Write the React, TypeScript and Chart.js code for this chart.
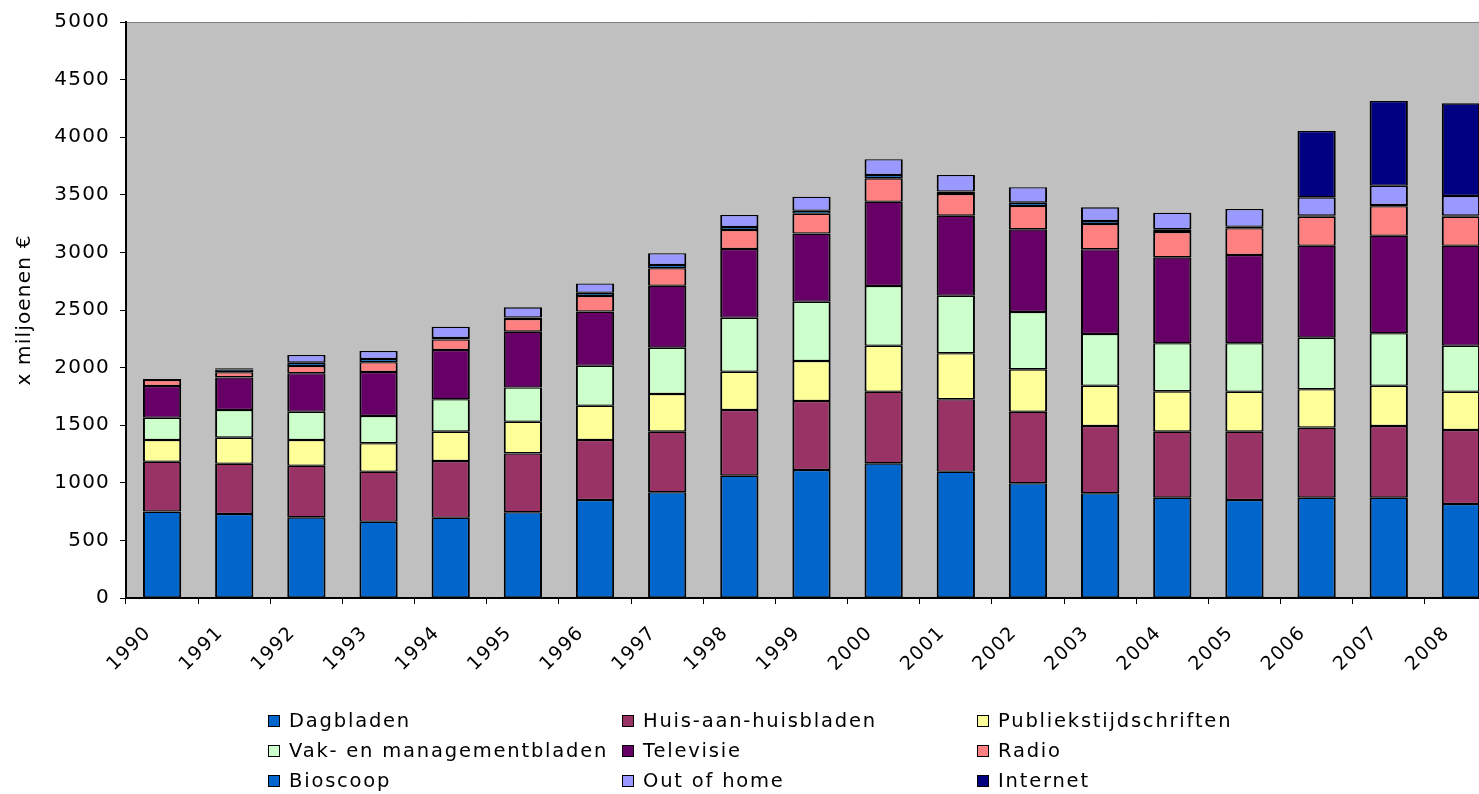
import React, { useEffect, useRef } from "react";
import { Chart, registerables } from "chart.js";

Chart.register(...registerables);

const years = ["1990", "1991", "1992", "1993", "1994", "1995", "1996", "1997", "1998", "1999", "2000", "2001", "2002", "2003", "2004", "2005", "2006", "2007", "2008"];

const dagbladen = [750, 729, 700, 662, 697, 744, 851, 918, 1062, 1111, 1169, 1096, 996, 909, 871, 851, 871, 871, 816];
const huisAanHuisbladen = [433, 437, 448, 434, 492, 511, 521, 526, 570, 599, 622, 629, 621, 584, 573, 593, 608, 622, 642];
const publiekstijdschriften = [189, 226, 224, 247, 255, 275, 297, 327, 332, 347, 399, 399, 368, 350, 350, 347, 333, 350, 333];
const vakbladen = [193, 240, 245, 237, 281, 297, 347, 402, 469, 515, 518, 500, 498, 449, 417, 420, 448, 455, 399];
const televisie = [275, 283, 334, 382, 428, 485, 470, 538, 597, 591, 732, 695, 717, 735, 746, 766, 798, 847, 868];
const radio = [52, 44, 63, 84, 92, 110, 135, 151, 164, 173, 203, 188, 203, 220, 220, 232, 251, 256, 251];
const bioscoop = [8, 25, 29, 29, 12, 13, 28, 29, 26, 26, 29, 22, 29, 26, 23, 14, 10, 10, 10];
const outOfHome = [0, 10, 66, 69, 98, 88, 82, 101, 105, 122, 136, 143, 133, 118, 145, 154, 159, 168, 171];
const internet = [0, 0, 0, 0, 0, 0, 0, 0, 0, 0, 0, 0, 0, 0, 0, 0, 576, 735, 804];

const yTicks = [0, 500, 1000, 1500, 2000, 2500, 3000, 3500, 4000, 4500, 5000];

const seriesNames = [
  "Dagbladen",
  "Huis-aan-huisbladen",
  "Publiekstijdschriften",
  "Vak- en managementbladen",
  "Televisie",
  "Radio",
  "Bioscoop",
  "Out of home",
  "Internet",
];
const seriesData = [dagbladen, huisAanHuisbladen, publiekstijdschriften, vakbladen, televisie, radio, bioscoop, outOfHome, internet];
const seriesColors = ["#0066CC", "#993366", "#FFFF99", "#CCFFCC", "#660066", "#FF8080", "#0066CC", "#9999FF", "#000080"];

const FONT = "'DejaVu Sans', Verdana, sans-serif";

const bgPlugin = {
  id: "plotBg",
  beforeDraw(chart: any) {
    const { ctx, chartArea: a } = chart;
    ctx.save();
    ctx.fillStyle = "#C0C0C0";
    ctx.fillRect(a.left, a.top, a.right - a.left, a.bottom - a.top);
    ctx.strokeStyle = "#808080";
    ctx.lineWidth = 1;
    ctx.beginPath();
    ctx.moveTo(a.left, a.top + 0.5);
    ctx.lineTo(a.right, a.top + 0.5);
    ctx.stroke();
    ctx.restore();
    (ctx as any).letterSpacing = "1.2px";
  },
};

export default function App() {
  const canvasRef = useRef<HTMLCanvasElement | null>(null);

  useEffect(() => {
    if (!canvasRef.current) return;
    Chart.defaults.font.family = FONT;
    const chart = new Chart(canvasRef.current, {
      type: "bar",
      data: {
        labels: years,
        datasets: seriesNames.map((name, i) => ({
          label: name,
          data: seriesData[i],
          backgroundColor: seriesColors[i],
          borderColor: "#000000",
          borderWidth: { top: 1.3, bottom: 1.3, left: 2, right: 2 } as any,
          borderSkipped: false as any,
          barPercentage: 0.53,
          categoryPercentage: 1,
        })),
      },
      options: {
        responsive: false,
        animation: false,
        layout: { padding: { top: 22, right: 3, bottom: 0, left: 0 } },
        plugins: {
          legend: { display: false },
          tooltip: { enabled: false },
        },
        scales: {
          x: {
            stacked: true,
            offset: true,
            grid: {
              offset: true,
              drawOnChartArea: false,
              drawTicks: true,
              tickLength: 6,
              color: "#000000",
              lineWidth: 1,
            },
            border: { display: true, color: "#000000", width: 2 },
            ticks: {
              autoSkip: false,
              minRotation: 45,
              maxRotation: 45,
              labelOffset: -14,
              padding: 18,
              color: "#000000",
              font: { size: 19, family: FONT },
            },
            afterFit(scale: any) {
              scale.height = 196;
            },
          },
          y: {
            stacked: true,
            min: 0,
            max: 5000,
            afterBuildTicks(scale: any) {
              scale.ticks = yTicks.map((v) => ({ value: v }));
            },
            grid: {
              drawOnChartArea: false,
              drawTicks: true,
              tickLength: 6,
              color: "#000000",
              lineWidth: 1,
            },
            border: { display: true, color: "#000000", width: 2 },
            ticks: {
              padding: 10,
              color: "#000000",
              font: { size: 20, family: FONT },
              callback: (v: any) => String(v),
            },
            title: {
              display: true,
              text: "x miljoenen €",
              color: "#000000",
              font: { size: 20, family: FONT },
              padding: { top: 13, bottom: 0 },
            },
            afterFit(scale: any) {
              scale.width = 126;
            },
          },
        },
      },
      plugins: [bgPlugin],
    });
    return () => chart.destroy();
  }, []);

  const colX = [268, 622, 977];
  const rowY = [721, 751, 781];

  return (
    <div style={{ position: "absolute", left: 0, top: 0, width: 1479, height: 794, overflow: "hidden", background: "#ffffff" }}>
      <canvas ref={canvasRef} width={1500} height={794} style={{ position: "absolute", left: 0, top: 0, width: 1500, height: 794 }} />
      {seriesNames.map((name, i) => {
        const cx = colX[i % 3];
        const cy = rowY[Math.floor(i / 3)];
        return (
          <div key={name}>
            <div
              style={{
                position: "absolute",
                left: cx,
                top: cy - 6,
                width: 10,
                height: 10,
                background: seriesColors[i],
                border: "1px solid #000000",
              }}
            />
            <div
              style={{
                position: "absolute",
                left: cx + 21,
                top: cy - 12,
                height: 24,
                lineHeight: "24px",
                fontSize: 19.5,
                fontFamily: FONT,
                letterSpacing: "1.8px",
                color: "#000000",
                whiteSpace: "nowrap",
              }}
            >
              {name}
            </div>
          </div>
        );
      })}
    </div>
  );
}
